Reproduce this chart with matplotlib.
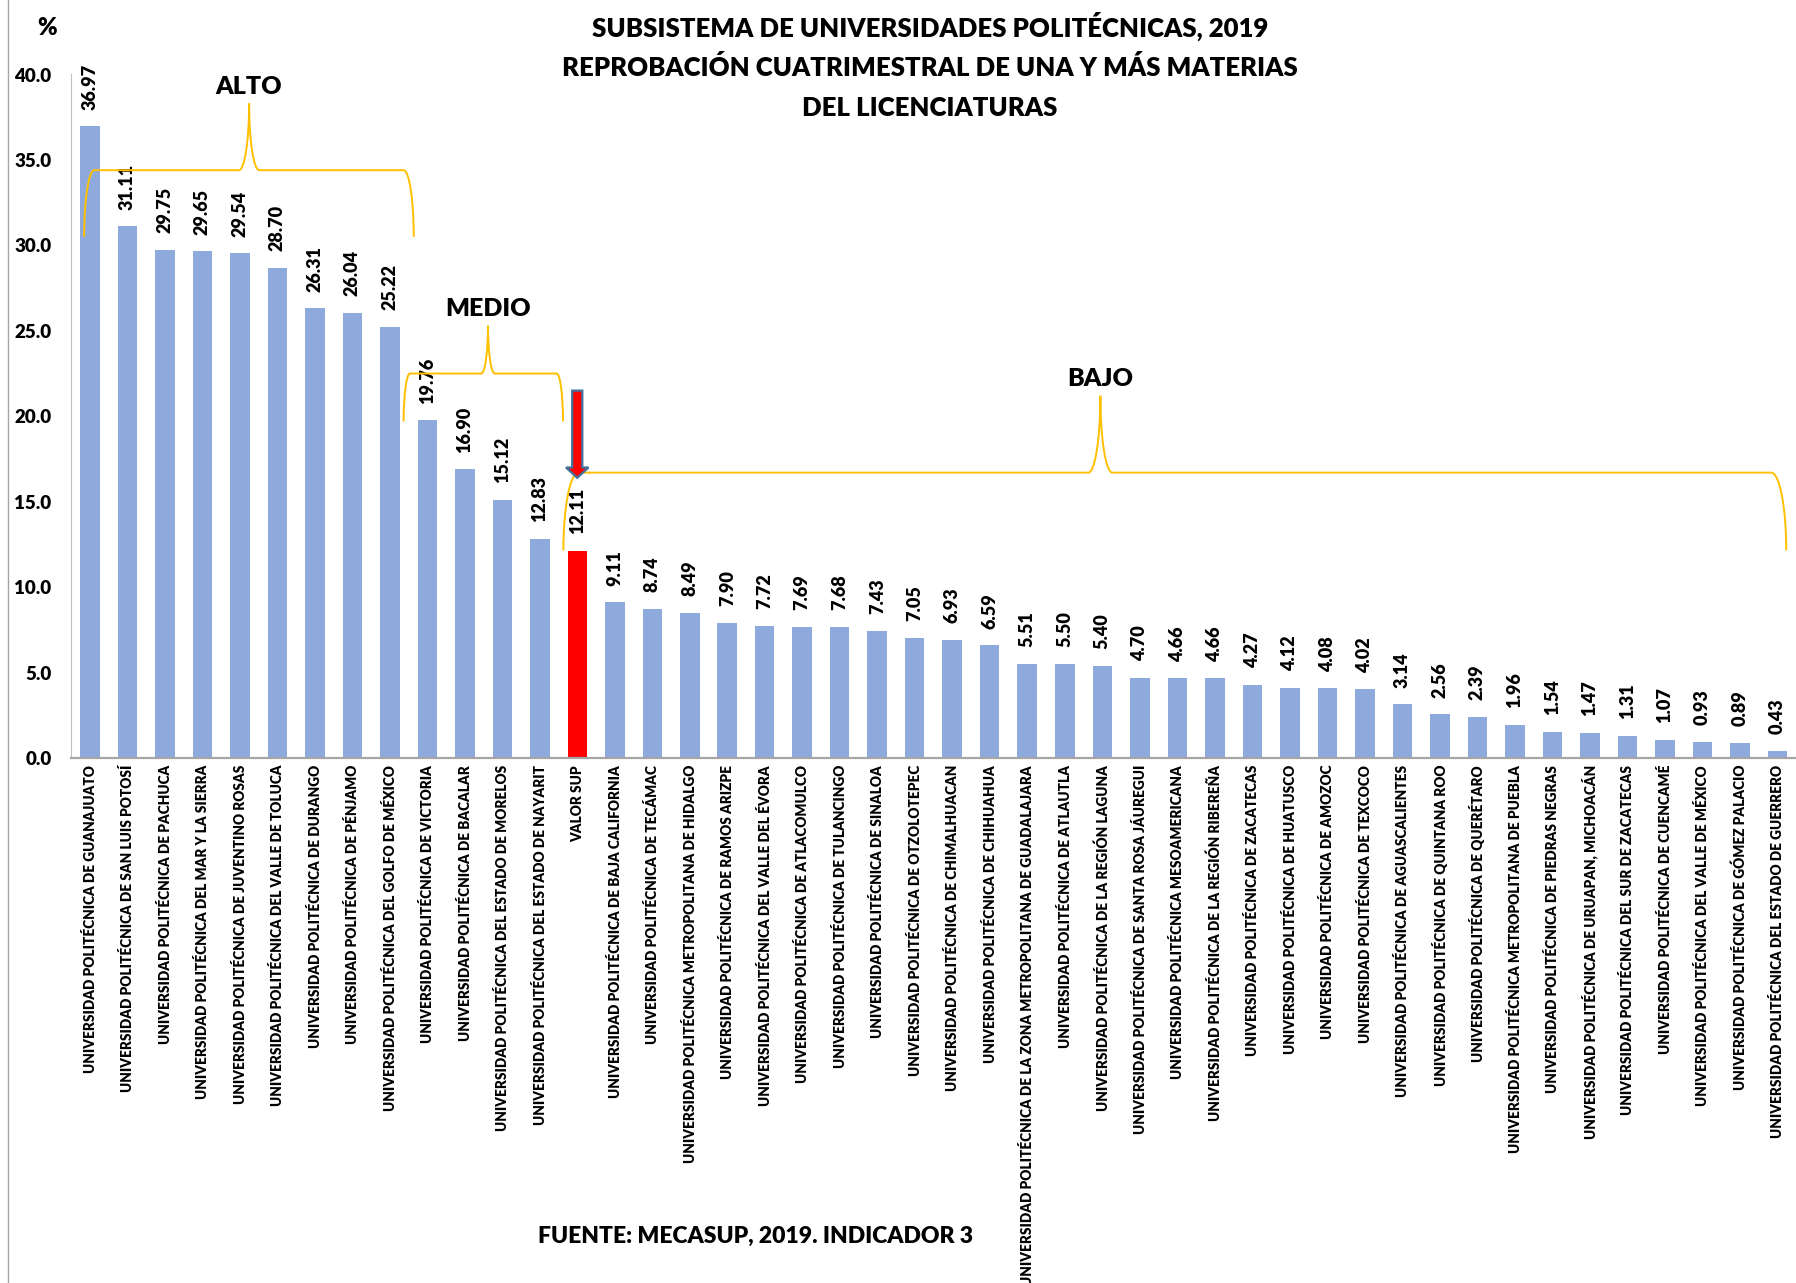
import numpy as np
import matplotlib
matplotlib.use('Agg')
import matplotlib.pyplot as plt
from matplotlib.path import Path
from matplotlib.patches import PathPatch, FancyArrow
from matplotlib.lines import Line2D

plt.rcParams['font.family'] = ['Lato', 'DejaVu Sans']
PESO = 'heavy'

# data
universidades = [
    'UNIVERSIDAD POLITÉCNICA DE GUANAJUATO',
    'UNIVERSIDAD POLITÉCNICA DE SAN LUIS POTOSÍ',
    'UNIVERSIDAD POLITÉCNICA DE PACHUCA',
    'UNIVERSIDAD POLITÉCNICA DEL MAR Y LA SIERRA',
    'UNIVERSIDAD POLITÉCNICA DE JUVENTINO ROSAS',
    'UNIVERSIDAD POLITÉCNICA DEL VALLE DE TOLUCA',
    'UNIVERSIDAD POLITÉCNICA DE DURANGO',
    'UNIVERSIDAD POLITÉCNICA DE PÉNJAMO',
    'UNIVERSIDAD POLITÉCNICA DEL GOLFO DE MÉXICO',
    'UNIVERSIDAD POLITÉCNICA DE VICTORIA',
    'UNIVERSIDAD POLITÉCNICA DE BACALAR',
    'UNIVERSIDAD POLITÉCNICA DEL ESTADO DE MORELOS',
    'UNIVERSIDAD POLITÉCNICA DEL ESTADO DE NAYARIT',
    'VALOR SUP',
    'UNIVERSIDAD POLITÉCNICA DE BAJA CALIFORNIA',
    'UNIVERSIDAD POLITÉCNICA DE TECÁMAC',
    'UNIVERSIDAD POLITÉCNICA METROPOLITANA DE HIDALGO',
    'UNIVERSIDAD POLITÉCNICA DE RAMOS ARIZPE',
    'UNIVERSIDAD POLITÉCNICA DEL VALLE DEL ÉVORA',
    'UNIVERSIDAD POLITÉCNICA DE ATLACOMULCO',
    'UNIVERSIDAD POLITÉCNICA DE TULANCINGO',
    'UNIVERSIDAD POLITÉCNICA DE SINALOA',
    'UNIVERSIDAD POLITÉCNICA DE OTZOLOTEPEC',
    'UNIVERSIDAD POLITÉCNICA DE CHIMALHUACAN',
    'UNIVERSIDAD POLITÉCNICA DE CHIHUAHUA',
    'UNIVERSIDAD POLITÉCNICA DE LA ZONA METROPOLITANA DE GUADALAJARA',
    'UNIVERSIDAD POLITÉCNICA DE ATLAUTLA',
    'UNIVERSIDAD POLITÉCNICA DE LA REGIÓN LAGUNA',
    'UNIVERSIDAD POLITÉCNICA DE SANTA ROSA JÁUREGUI',
    'UNIVERSIDAD POLITÉCNICA MESOAMERICANA',
    'UNIVERSIDAD POLITÉCNICA DE LA REGIÓN RIBEREÑA',
    'UNIVERSIDAD POLITÉCNICA DE ZACATECAS',
    'UNIVERSIDAD POLITÉCNICA DE HUATUSCO',
    'UNIVERSIDAD POLITÉCNICA DE AMOZOC',
    'UNIVERSIDAD POLITÉCNICA DE TEXCOCO',
    'UNIVERSIDAD POLITÉCNICA DE AGUASCALIENTES',
    'UNIVERSIDAD POLITÉCNICA DE QUINTANA ROO',
    'UNIVERSIDAD POLITÉCNICA DE QUERÉTARO',
    'UNIVERSIDAD POLITÉCNICA METROPOLITANA DE PUEBLA',
    'UNIVERSIDAD POLITÉCNICA DE PIEDRAS NEGRAS',
    'UNIVERSIDAD POLITÉCNICA DE URUAPAN, MICHOACÁN',
    'UNIVERSIDAD POLITÉCNICA DEL SUR DE ZACATECAS',
    'UNIVERSIDAD POLITÉCNICA DE CUENCAMÉ',
    'UNIVERSIDAD POLITÉCNICA DEL VALLE DE MÉXICO',
    'UNIVERSIDAD POLITÉCNICA DE GÓMEZ PALACIO',
    'UNIVERSIDAD POLITÉCNICA DEL ESTADO DE GUERRERO',
]
reprobacion = [36.97, 31.11, 29.75, 29.65, 29.54, 28.70, 26.31, 26.04, 25.22,
               19.76, 16.90, 15.12, 12.83, 12.11, 9.11, 8.74, 8.49, 7.90, 7.72,
               7.69, 7.68, 7.43, 7.05, 6.93, 6.59, 5.51, 5.50, 5.40, 4.70, 4.66,
               4.66, 4.27, 4.12, 4.08, 4.02, 3.14, 2.56, 2.39, 1.96, 1.54, 1.47,
               1.31, 1.07, 0.93, 0.89, 0.43]
destacado = 'VALOR SUP'

grupos = ['ALTO', 'MEDIO', 'BAJO']

# brace geometry (bar index / % units)
brace_x0 = [-0.15, 8.37, 12.63]
brace_x1 = [8.64, 12.62, 45.24]
brace_xp = [4.25, 10.62, 26.95]
brace_yend = [30.5, 19.7, 12.15]
brace_ymid = [34.4, 22.5, 16.7]
brace_ypk = [38.3, 25.3, 21.2]
brace_dx = [0.27, 0.17, 0.4]
brace_dp = [0.27, 0.18, 0.32]

W, H = 1796, 1283
fig = plt.figure(figsize=(W / 100, H / 100), dpi=100)
ax = fig.add_axes([71 / W, 1 - 758 / H, (W - 71) / W, (758 - 74.5) / H])

x = np.arange(len(universidades))
colores = ['#FF0000' if u == destacado else '#8EA9DB' for u in universidades]
ax.bar(x, reprobacion, width=0.52, color=colores, zorder=2)

for i, v in enumerate(reprobacion):
    ax.annotate(f'{v:.2f}', (i, v), xytext=(0, 12), textcoords='offset points',
                rotation=90, ha='center', va='bottom', fontsize=13, fontweight=PESO)

ax.set_xlim(-0.5, len(universidades) - 0.5)
ax.set_ylim(0, 40)
ax.set_yticks(np.arange(0, 41, 5))
ax.set_yticklabels([f'{t:.1f}' for t in np.arange(0, 41, 5)], fontsize=13.5, fontweight=PESO)
ax.set_xticks(x)
ax.set_xticklabels(universidades, rotation=90, fontsize=9.8, fontweight=PESO, va='top')
ax.tick_params(axis='y', length=0, pad=14)
ax.tick_params(axis='x', length=0, pad=5)
for s in ['top', 'right']:
    ax.spines[s].set_visible(False)
ax.spines['left'].set_color('#BFBFBF')
ax.spines['left'].set_linewidth(0.8)
ax.spines['bottom'].set_color('#A6A6A6')
ax.spines['bottom'].set_linewidth(1.6)


def brace(x0, x1, xp, yend, ymid, ypk, dx, dp):
    k = 0.552
    ry = ymid - yend
    rp = ypk - ymid
    verts = [
        (x0, yend),
        (x0, yend + k * ry), (x0 + dx - k * dx, ymid), (x0 + dx, ymid),
        (xp - dp, ymid),
        (xp - dp + k * dp, ymid), (xp, ypk - k * rp), (xp, ypk),
        (xp, ypk - k * rp), (xp + dp - k * dp, ymid), (xp + dp, ymid),
        (x1 - dx, ymid),
        (x1 - dx + k * dx, ymid), (x1, yend + k * ry), (x1, yend),
    ]
    codes = [Path.MOVETO,
             Path.CURVE4, Path.CURVE4, Path.CURVE4,
             Path.LINETO,
             Path.CURVE4, Path.CURVE4, Path.CURVE4,
             Path.CURVE4, Path.CURVE4, Path.CURVE4,
             Path.LINETO,
             Path.CURVE4, Path.CURVE4, Path.CURVE4]
    ax.add_patch(PathPatch(Path(verts, codes), fill=False, edgecolor='#FFC000',
                           lw=1.4, zorder=4, clip_on=False))


for g, a, b, p, ye, ym, yp, d1, d2 in zip(grupos, brace_x0, brace_x1, brace_xp, brace_yend,
                                          brace_ymid, brace_ypk, brace_dx, brace_dp):
    brace(a, b, p, ye, ym, yp, d1, d2)
    ax.text(p, yp + 0.35, g, ha='center', va='bottom', fontsize=18, fontweight=PESO,
            clip_on=False)

# arrow pointing to the reference value
i_ref = universidades.index(destacado)
ax.add_patch(FancyArrow(i_ref, 21.5, 0, -5.1, width=0.27, head_width=0.6, head_length=0.6,
                        length_includes_head=True, facecolor='#FF0000', edgecolor='#41719C',
                        lw=1.6, zorder=5))

fig.text(47 / W, 1 - 28 / H, '%', ha='center', va='center', fontsize=17, fontweight=PESO)
titulo = ['SUBSISTEMA DE UNIVERSIDADES POLITÉCNICAS, 2019',
          'REPROBACIÓN CUATRIMESTRAL DE UNA Y MÁS MATERIAS',
          'DEL LICENCIATURAS']
for j, t in enumerate(titulo):
    fig.text(930 / W, 1 - (26 + 41 * j) / H, t, ha='center', va='center',
             fontsize=18.5, fontweight=PESO)
fig.text(755 / W, 1 - 1236 / H, 'FUENTE: MECASUP, 2019. INDICADOR 3', ha='center',
         va='center', fontsize=16.5, fontweight=PESO)

fig.add_artist(Line2D([8 / W, 8 / W], [0, 1], transform=fig.transFigure,
                      color='#A6A6A6', lw=1))

fig.savefig('out.png', dpi=100)
